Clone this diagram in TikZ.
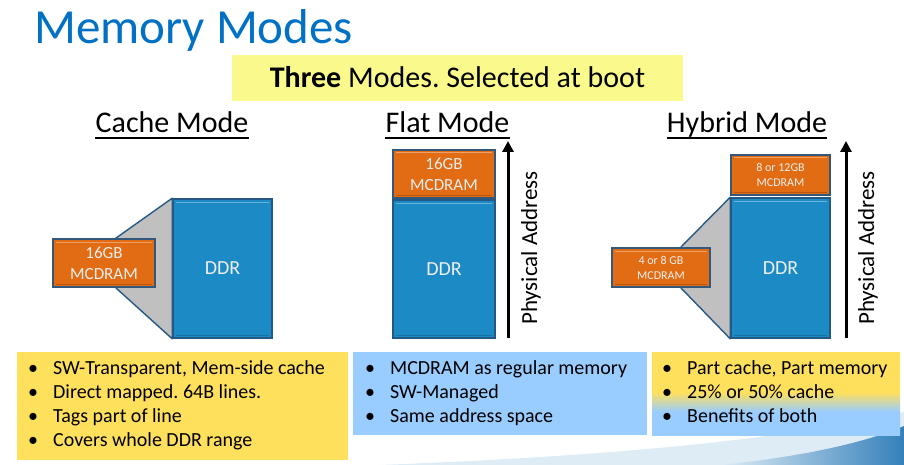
\documentclass[tikz,border=0pt]{standalone}
\usepackage{fontspec}
\setmainfont{Carlito}
\usetikzlibrary{arrows.meta,calc}

\definecolor{titleblue}{RGB}{0,113,197}
\definecolor{bannery}{RGB}{250,250,140}
\definecolor{ddrblue}{RGB}{28,138,196}
\definecolor{ddredge}{RGB}{38,88,132}
\definecolor{mcorange}{RGB}{226,108,20}
\definecolor{mcedge}{RGB}{52,88,124}
\definecolor{conegrey}{RGB}{192,192,192}
\definecolor{noteyellow}{RGB}{255,224,92}
\definecolor{noteblue}{RGB}{153,204,255}
\definecolor{boxtext}{RGB}{238,238,238}
\definecolor{swooshlight}{RGB}{222,236,246}
\definecolor{swooshdark}{RGB}{52,128,186}

% Hybrid note: yellow at the top blending into blue at the bottom
\pgfdeclareverticalshading{hybridnote}{100bp}{%
  color(0bp)=(noteblue); color(39bp)=(noteblue);
  color(51bp)=(noteyellow); color(100bp)=(noteyellow)}

\newcommand{\bul}{\makebox[25pt][l]{\textbullet}}

\tikzset{
  x=1pt, y=-1pt,
  memblock/.style={inner sep=0pt, align=center, text=boxtext,
    path picture={
      \draw[white, opacity=.35, line width=1pt]
        ([shift={(3pt,-3pt)}]path picture bounding box.north west) --
        ([shift={(-3pt,-3pt)}]path picture bounding box.north east);
      \draw[black, opacity=.18, line width=1pt]
        ([shift={(3pt,3pt)}]path picture bounding box.south west) --
        ([shift={(-3pt,3pt)}]path picture bounding box.south east);
    }},
  ddr/.style={memblock, draw=ddredge, line width=1.6pt, fill=ddrblue,
    font=\fontsize{20}{23}\selectfont},
  mcdram/.style={memblock, draw=mcedge, line width=1.6pt, fill=mcorange,
    font=\fontsize{17}{21}\selectfont},
  mcsmall/.style={mcdram, font=\fontsize{12}{15}\selectfont},
  cone/.style={fill=conegrey, draw=ddredge, line width=1.4pt, line join=round},
  modehead/.style={inner sep=0pt, anchor=base, font=\fontsize{30}{36}\selectfont},
  headline/.style={line width=1.6pt},
  addrarrow/.style={line width=3pt, -{Triangle[width=11pt,length=11pt]}},
  addrlabel/.style={rotate=90, inner sep=0pt, font=\fontsize{23}{27}\selectfont},
  notebox/.style={inner sep=0pt, anchor=north west},
  notetext/.style={inner sep=0pt, anchor=north west, align=left,
    font=\fontsize{20}{24}\selectfont},
}

\begin{document}
\frenchspacing
\begin{tikzpicture}
\useasboundingbox (0,0) rectangle (904,465);

% soft background swoosh along the bottom edge
\fill[swooshlight] (380,465) .. controls (560,458) and (760,445) .. (904,412)
  -- (904,465) -- cycle;
\shade[left color=swooshlight, right color=swooshdark]
  (720,465) .. controls (790,458) and (860,445) .. (904,426)
  -- (904,465) -- cycle;

% title and banner
\node[inner sep=0pt, anchor=base west, text=titleblue,
  font=\fontsize{49}{56}\selectfont] (title) at (34,44) {Memory Modes};
\node[fill=bannery, minimum width=451pt, minimum height=46pt, inner sep=0pt]
  (banner) at (457.5,78) {};
\node[inner sep=0pt, anchor=base, font=\fontsize{30}{36}\selectfont]
  (bannertext) at (457.5,88) {\textbf{Three} Modes. Selected at boot};

% mode headings
\node[modehead] (hcache) at (172,133) {Cache Mode};
\node[modehead] (hflat) at (447.5,133) {Flat Mode};
\node[modehead] (hhybrid) at (747,133) {Hybrid Mode};
\foreach \h in {hcache,hflat,hhybrid}
  \draw[headline] ([yshift=-5pt]\h.base west) -- ([yshift=-5pt]\h.base east);

% ---- cache mode ----
\node[ddr, minimum width=99pt, minimum height=139pt] (cddr) at (222.5,268.5) {DDR};
\node[mcdram, minimum width=102pt, minimum height=48pt] (cmc) at (104,263) {};
\fill[cone] ([xshift=-40pt]cmc.north east) -- (cddr.north west)
  -- (cddr.south west) -- ([xshift=-40pt]cmc.south east);
\node[mcdram, minimum width=102pt, minimum height=48pt] (cmc) at (104,263)
  {16GB\\MCDRAM};

% ---- flat mode ----
\node[mcdram, minimum width=102pt, minimum height=48pt] (fmc) at (444,174)
  {16GB\\MCDRAM};
\node[ddr, minimum width=102pt, minimum height=138pt] (fddr) at (444,269) {DDR};
\coordinate (fbot) at (508,338);
\coordinate (ftop) at (508,141);
\draw[addrarrow] (fbot) -- (ftop);
\node[addrlabel] (flabel) at (531,248) {Physical Address};

% ---- hybrid mode ----
\node[mcsmall, minimum width=99pt, minimum height=40pt] (hmc) at (780.5,175)
  {8 or 12GB\\MCDRAM};
\node[ddr, minimum width=99pt, minimum height=140pt] (hddr) at (780.5,268) {DDR};
\node[mcsmall, minimum width=98pt, minimum height=39pt] (hcache) at (661,267.5) {};
\fill[cone] ([xshift=-30pt]hcache.north east) -- (hddr.north west)
  -- (hddr.south west) -- ([xshift=-30pt]hcache.south east);
\node[mcsmall, minimum width=98pt, minimum height=39pt] (hcache) at (661,267.5)
  {4 or 8 GB\\MCDRAM};
\coordinate (hbot) at (846,338);
\coordinate (htop) at (846,141);
\draw[addrarrow] (hbot) -- (htop);
\node[addrlabel] (hlabel) at (868,248) {Physical Address};

% ---- notes ----
\node[notebox, fill=noteyellow, minimum width=331pt, minimum height=108pt]
  (ncache) at (17,352) {};
\node[notetext] (tcache) at ([shift={(11pt,-8pt)}]ncache.north west)
  {\bul SW-Transparent, Mem-side cache\\
   \bul Direct mapped. 64B lines.\\
   \bul Tags part of line\\
   \bul Covers whole DDR range};

\node[notebox, fill=noteblue, minimum width=294pt, minimum height=83pt]
  (nflat) at (353,352) {};
\node[notetext] (tflat) at ([shift={(12pt,-8pt)}]nflat.north west)
  {\bul MCDRAM as regular memory\\
   \bul SW-Managed\\
   \bul Same address space};

\node[notebox, shading=hybridnote, minimum width=248pt, minimum height=83pt]
  (nhybrid) at (652,352) {};
\node[notetext] (thybrid) at ([shift={(10pt,-8pt)}]nhybrid.north west)
  {\bul Part cache, Part memory\\
   \bul 25\% or 50\% cache\\
   \bul Benefits of both};
\end{tikzpicture}
\end{document}
